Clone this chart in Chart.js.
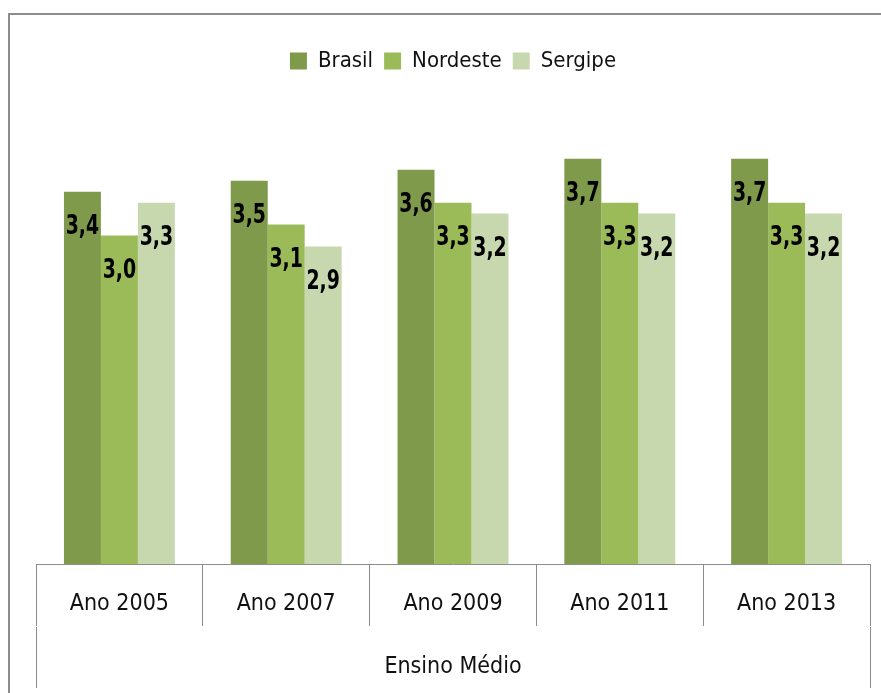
<!DOCTYPE html>
<html>
<head>
<meta charset="utf-8">
<script src="https://cdn.jsdelivr.net/npm/chart.js@4"></script>
<style>
  body { margin: 0; background: #fff; }
  #wrap { position: relative; width: 881px; height: 693px; overflow: hidden; }
  #frame { position: absolute; left: 8px; top: 13px; width: 900px; height: 700px;
           border-left: 2px solid #8c8c8c; border-top: 2px solid #8c8c8c; pointer-events: none; }
</style>
</head>
<body>
<div id="wrap">
  <canvas id="chart" width="881" height="693"></canvas>
  <div id="frame"></div>
</div>
<script>
const years = ['Ano 2005', 'Ano 2007', 'Ano 2009', 'Ano 2011', 'Ano 2013'];
const groupLabel = ['Ensino Médio'];
const brasil = [3.4, 3.5, 3.6, 3.7, 3.7];
const nordeste = [3.0, 3.1, 3.3, 3.3, 3.3];
const sergipe = [3.3, 2.9, 3.2, 3.2, 3.2];

const narrow = "'Liberation Sans Narrow', 'DejaVu Sans Condensed', 'Arial Narrow', sans-serif";
const lineColor = '#8c8c8c';

// value labels inside the top of each bar, comma decimal, a bit stretched like the original
const barLabels = {
  id: 'barLabels',
  afterDatasetsDraw(chart) {
    const ctx = chart.ctx;
    chart.data.datasets.forEach((ds, i) => {
      chart.getDatasetMeta(i).data.forEach((bar, j) => {
        ctx.save();
        ctx.translate(bar.x, bar.y + 35);
        ctx.scale(1, 1.3);
        ctx.font = 'bold 21px ' + narrow;
        ctx.fillStyle = '#000';
        ctx.textAlign = 'center';
        ctx.textBaseline = 'middle';
        ctx.fillText(ds.data[j].toFixed(1).replace('.', ','), 0, 0);
        ctx.restore();
      });
    });
  }
};

new Chart(document.getElementById('chart').getContext('2d'), {
  type: 'bar',
  data: {
    labels: years,
    datasets: [
      { label: 'Brasil', data: brasil, backgroundColor: '#7f9a4a' },
      { label: 'Nordeste', data: nordeste, backgroundColor: '#9bbb59' },
      { label: 'Sergipe', data: sergipe, backgroundColor: '#c7d7ae' }
    ]
  },
  options: {
    responsive: false,
    animation: false,
    barPercentage: 1,
    categoryPercentage: 0.665,
    layout: { padding: { left: 36, right: 11, top: 39, bottom: 6 } },
    plugins: {
      legend: {
        position: 'top',
        labels: {
          boxWidth: 17,
          boxHeight: 17,
          padding: 11,
          color: '#111',
          font: { family: narrow, size: 22 }
        }
      },
      tooltip: { enabled: false }
    },
    scales: {
      x: {
        position: 'bottom',
        grid: { offset: true, drawOnChartArea: false, tickLength: 62, color: lineColor },
        border: { display: true, color: lineColor },
        ticks: { color: '#111', padding: -36, font: { family: narrow, size: 23 } },
        afterFit: s => { s.height = 63; }
      },
      x2: {
        type: 'category',
        position: 'bottom',
        labels: groupLabel,
        offset: true,
        grid: { offset: true, drawOnChartArea: false, tickLength: 61, color: lineColor },
        border: { display: false },
        ticks: { color: '#111', padding: -35, font: { family: narrow, size: 23 } },
        afterFit: s => { s.height = 60; }
      },
      gap: {
        type: 'category',
        position: 'top',
        labels: [''],
        grid: { display: false },
        border: { display: false },
        ticks: { display: false },
        afterFit: s => { s.height = 44; }
      },
      y: {
        display: false,
        min: 0,
        max: 4
      }
    }
  },
  plugins: [barLabels]
});
</script>
</body>
</html>
